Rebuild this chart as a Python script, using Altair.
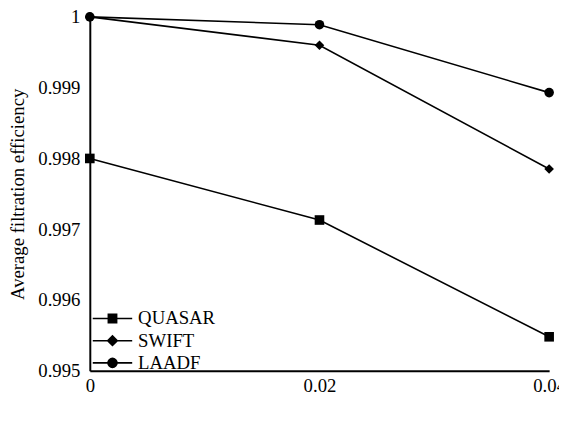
import altair as alt
import pandas as pd

error_rates = [0, 0.02, 0.04]
series_names = ["QUASAR", "SWIFT", "LAADF"]
quasar = [0.998, 0.99713, 0.99548]
swift = [1.0, 0.99960, 0.99785]
laadf = [1.0, 0.99989, 0.99893]
marker_shapes = ["square", "diamond", "circle"]

rows = []
for name, vals in zip(series_names, [quasar, swift, laadf]):
    for x, v in zip(error_rates, vals):
        rows.append({"rate": x, "eff": v, "series": name})
df = pd.DataFrame(rows)

FONT = "Liberation Serif"
FS = 19

x_enc = alt.X("rate:Q", scale=alt.Scale(domain=[0, 0.04], nice=False),
              axis=alt.Axis(values=[0, 0.02, 0.04], format="~g", title="Max. error rate",
                            ticks=False, grid=False, labelPadding=6,
                            titleY=407, titleBaseline="alphabetic"))
y_enc = alt.Y("eff:Q", scale=alt.Scale(domain=[0.995, 1.0], nice=False, zero=False),
              axis=alt.Axis(values=[0.995, 0.996, 0.997, 0.998, 0.999, 1.0], format="~g",
                            title="Average filtration efficiency", ticks=False, grid=False,
                            labelPadding=10, titleX=-67, titleY=179.5,
                            titleBaseline="alphabetic", titleAlign="center"))

base = alt.Chart(df)

lines = base.mark_line(color="black", strokeWidth=1.6).encode(
    x=x_enc, y=y_enc, detail="series:N")

point_layers = []
for name, shp in zip(series_names, marker_shapes):
    point_layers.append(
        base.transform_filter(alt.datum.series == name).mark_point(
            filled=True, color="black", opacity=1, size=95, shape=shp
        ).encode(x="rate:Q", y="eff:Q")
    )

bar = "M-2,-0.08H2V0.08H-2Z"
sq = bar + "M-0.5,-0.5H0.5V0.5H-0.5Z"
dm = bar + "M0,-0.6L0.6,0L0,0.6L-0.6,0Z"
circ = bar + ("M0.54,0L0.5,0.2L0.38,0.38L0.2,0.5L0,0.54L-0.2,0.5L-0.38,0.38L-0.5,0.2"
              "L-0.54,0L-0.5,-0.2L-0.38,-0.38L-0.2,-0.5L0,-0.54L0.2,-0.5L0.38,-0.38L0.5,-0.2Z")

legend_layer = base.mark_point(filled=True, color="black", size=0).encode(
    x="rate:Q", y="eff:Q",
    shape=alt.Shape("series:N", sort=series_names,
                    scale=alt.Scale(domain=series_names, range=[sq, dm, circ]),
                    legend=alt.Legend(title=None, orient="none", legendX=12, legendY=295,
                                      symbolSize=400, symbolOpacity=1,
                                      symbolFillColor="black",
                                      labelFont=FONT, labelFontSize=FS,
                                      labelColor="black", labelOffset=15, rowPadding=1.5,
                                      padding=0)))

chart = alt.layer(lines, *point_layers, legend_layer).properties(
    width=466, height=359,
    autosize=alt.AutoSizeParams(type="none"),
    padding={"left": 83, "top": 6, "right": 10, "bottom": 52},
).configure(font=FONT).configure_view(stroke=None).configure_axis(
    domainColor="black", domainWidth=2, labelFont=FONT, labelFontSize=FS, labelColor="black",
    titleFont=FONT, titleFontSize=FS, titleColor="black", titleFontWeight="normal",
    labelFlush=False, labelOverlap=False,
).configure_legend(labelFont=FONT)

chart.save("out.html", embed_options={"renderer": "svg", "actions": False})
